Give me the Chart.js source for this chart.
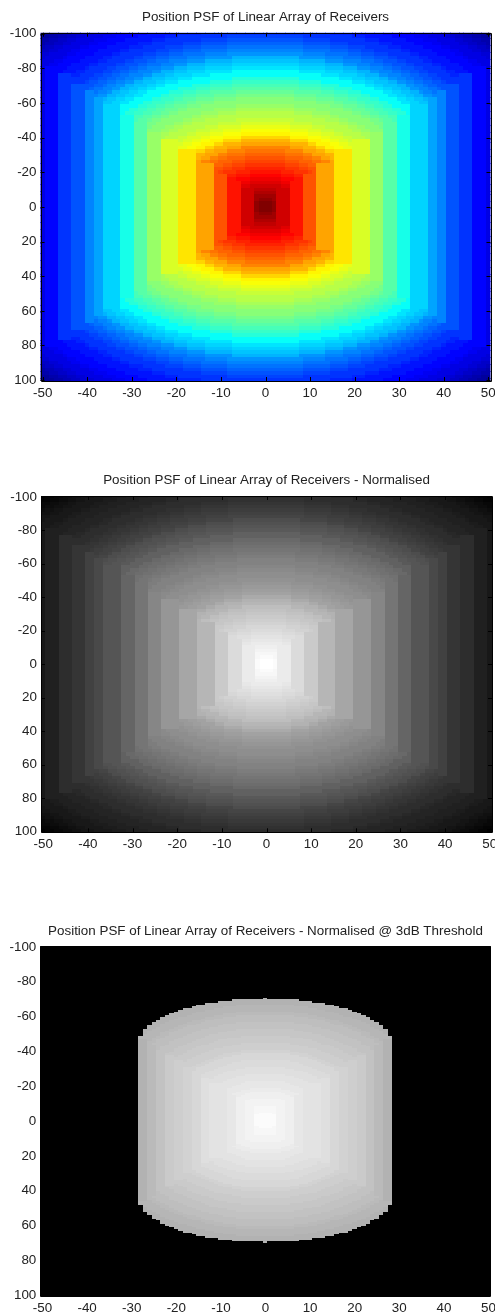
<!DOCTYPE html>
<html><head><meta charset="utf-8">
<style>
html,body{margin:0;padding:0;background:#fff;width:495px;height:1312px;overflow:hidden}
canvas{position:absolute;left:0;display:block}
</style>
<script src="https://cdn.jsdelivr.net/npm/chart.js@4"></script>
</head><body>
<canvas id="c1" width="495" height="400" style="top:0"></canvas>
<canvas id="c2" width="495" height="400" style="top:460px"></canvas>
<canvas id="c3" width="495" height="392" style="top:920px"></canvas>
<script>
// Tick labels
const xTicks = [-50,-40,-30,-20,-10,0,10,20,30,40,50];
const yTicks = [-100,-80,-60,-40,-20,0,20,40,60,80,100];

// Normalised level read along y=0, for |x| = 0..50 (the stepped vertical bands)
const columnLevels = [1,.965,.965,.91,.91,.91,.855,.855,.855,.785,.785,.785,.713,.713,.713,.713,.645,.645,.645,.645,
 .585,.585,.585,.585,.525,.525,.525,.465,.465,.465,.395,.395,.395,.34,.34,.34,.34,.285,.285,.25,.25,
 .215,.215,.215,.18,.18,.18,.14,.14,.14,.10];

// Normalised level read along x=0 and into the corners, every 2 units of elliptical radius
const radialLevels = [1,.99,.975,.96,.945,.93,.915,.90,.885,.87,.855,.84,.825,.81,.795,.775,.755,.735,.715,.69,
 .665,.64,.62,.605,.59,.575,.56,.55,.54,.525,.51,.50,.485,.47,.455,.44,.43,.41,.39,.375,
 .355,.335,.315,.30,.28,.26,.245,.23,.215,.20,.185,.175,.165,.155,.145,.135,.125,.115,.105,.095,
 .085,.07,.055,.04,.03,.015,0,0];

// 3 dB panel: grey level read along y=0 for |x| = 0..28
const thresholdColumnLevels = [.98,.96,.96,.945,.945,.925,.925,.905,.905,.89,.89,.875,.875,.86,.86,.84,.84,.825,.825,.80,.80,.785,.785,.76,.76,.73,.73,.70,.70];

// 3 dB panel: grey level read along x=0, every 2 units of elliptical radius
const thresholdRadialLevels = [.98,.975,.97,.96,.955,.945,.94,.93,.925,.915,.905,.895,.885,.875,.87,.86,.85,.845,.84,.83,
 .82,.81,.80,.79,.785,.775,.77,.76,.75,.745,.735,.725,.715,.71,.70,.69,.68,.67];

// 3 dB panel: half width (columns) of the lit area, as [last row, half width]
const thresholdOutline = [[48,28],[52,27],[54,26],[56,25],[57,24],[59,23],[60,22],[61,21],[62,20],[63,19],[64,18],[65,16],[66,15],[67,13],[68,10],[69,7],[70,0]];

// Colormap stops of MATLAB jet
const jetStops = [[0,0,0,.5625],[.125,0,0,1],[.375,0,1,1],[.625,1,1,0],[.875,1,0,0],[1,.5,0,0]];

const titles = ['Position PSF of Linear Array of Receivers',
 'Position PSF of Linear Array of Receivers - Normalised',
 'Position PSF of Linear Array of Receivers - Normalised @ 3dB Threshold'];

const COLUMN_BOUNDARY = 1.62, RADIAL_X = 1.66;
function level(columns, radial, ax, ay){
  let e=ax; while(e<columns.length-1 && columns[e+1]===columns[ax]) e++;
  if (ax>2 && ay <= COLUMN_BOUNDARY*(e+1)) return columns[ax];
  const X = RADIAL_X*ax;
  return radial[Math.min(radial.length-1, Math.round(Math.sqrt(X*X+ay*ay)/2))];
}
function halfWidth(ay){
  for (const [row,w] of thresholdOutline) if (ay <= row) return w;
  return -1;
}
function jet(v){
  for (let i=1;i<jetStops.length;i++){
    if (v <= jetStops[i][0]){
      const a=jetStops[i-1], b=jetStops[i], t=(v-a[0])/(b[0]-a[0]);
      return [1,2,3].map(k=>Math.round(255*(a[k]+(b[k]-a[k])*t)));
    }
  }
  return [128,0,0];
}
function gray(v){const g=Math.round(255*v);return [g,g,g];}

function sprite(cache,key,w,h,rgb){
  if(!cache[key]){
    const c=document.createElement('canvas');c.width=w;c.height=h;
    const g=c.getContext('2d');g.fillStyle='rgb('+rgb.join(',')+')';g.fillRect(0,0,w,h);
    cache[key]=c;
  }
  return cache[key];
}

function cells(rowStep, fn){
  const pts=[];
  for(let y=-100;y<=100;y+=rowStep)
    for(let x=-50;x<=50;x++)
      pts.push({x,y,v:fn(Math.abs(x),Math.abs(y))});
  return pts;
}

const framePlugin = {
  id:'frame',
  afterDatasetsDraw(chart){
    const {ctx,chartArea:a,scales:{x,y}}=chart, L=4;
    ctx.save();ctx.strokeStyle='#000';ctx.lineWidth=1;ctx.beginPath();
    xTicks.forEach(t=>{const p=Math.round(x.getPixelForValue(t))+.5;
      ctx.moveTo(p,a.top);ctx.lineTo(p,a.top+L);ctx.moveTo(p,a.bottom);ctx.lineTo(p,a.bottom-L);});
    yTicks.forEach(t=>{const p=Math.round(y.getPixelForValue(t))+.5;
      ctx.moveTo(a.left,p);ctx.lineTo(a.left+L,p);ctx.moveTo(a.right,p);ctx.lineTo(a.right-L,p);});
    ctx.rect(Math.round(a.left)+.5,Math.round(a.top)+.5,Math.round(a.right-a.left),Math.round(a.bottom-a.top));
    ctx.stroke();ctx.restore();
  }
};

function panel(id,title,titleY,top,bottom,left,right,data,colour,cw,ch){
  const canvas=document.getElementById(id), H=canvas.height, cache={}, fs=13.4, lh=fs*1.2;
  return new Chart(canvas,{
    type:'scatter',
    data:{datasets:[{data,showLine:false,
      pointRadius:3,pointHoverRadius:3,pointBorderWidth:0,
      pointStyle:c=>{const v=c.raw?c.raw.v:0,i=Math.min(63,Math.floor(v*64));return sprite(cache,i,cw,ch,colour(i/63,v));}
    }]},
    options:{
      responsive:false,animation:false,devicePixelRatio:1,parsing:false,normalized:true,
      events:[],
      layout:{padding:{left:0,right:495-right,top:0,bottom:0}},
      plugins:{legend:{display:false},tooltip:{enabled:false},
        title:{display:true,text:title,fullSize:false,color:'#222',
          font:{family:'"Liberation Sans",Arial,sans-serif',size:fs,weight:'normal',lineHeight:1.2},
          padding:{top:titleY-lh/2,bottom:top-titleY-lh/2}}},
      scales:{
        x:{type:'linear',min:-50.5,max:50.5,
          grid:{display:false,drawTicks:false},border:{display:false},
          afterBuildTicks:s=>{s.ticks=xTicks.map(value=>({value}));},
          afterFit:s=>{s.height=H-bottom;s.paddingLeft=0;s.paddingRight=0;},
          ticks:{autoSkip:false,maxRotation:0,minRotation:0,padding:4,color:'#222',
            font:{family:'"Liberation Sans",Arial,sans-serif',size:13.4}}},
        y:{type:'linear',reverse:true,min:-100.5,max:100.5,
          grid:{display:false,drawTicks:false},border:{display:false},
          afterBuildTicks:s=>{s.ticks=yTicks.map(value=>({value}));},
          afterFit:s=>{s.width=left;s.paddingTop=0;s.paddingBottom=0;},
          ticks:{autoSkip:false,padding:4,color:'#222',
            font:{family:'"Liberation Sans",Arial,sans-serif',size:13.4}}}
      }
    },
    plugins:[framePlugin]
  });
}

const fullLevel=(ax,ay)=>level(columnLevels,radialLevels,ax,ay);
panel('c1',titles[0],17,32.7,381,40.5,490.5,cells(2,fullLevel),(q)=>jet(q),5,4);
panel('c2',titles[1],20,36,372.3,41,494,cells(2,fullLevel),(q)=>gray(q),5,4);
panel('c3',titles[2],11.5,26,376,40.3,490.7,
  cells(1,(ax,ay)=>ax<=halfWidth(ay)?level(thresholdColumnLevels,thresholdRadialLevels,ax,ay):0),(q)=>gray(q),5,3);
</script>
</body></html>
